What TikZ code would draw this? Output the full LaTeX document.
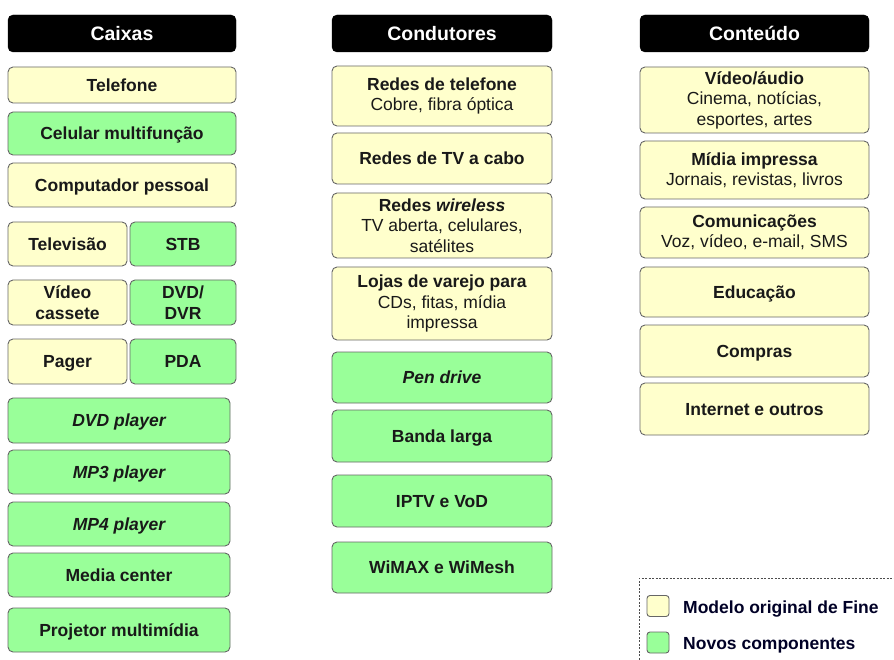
\documentclass[tikz,border=0pt]{standalone}
\usepackage{fontspec}
\setmainfont{Liberation Sans}
\begin{document}
\begin{tikzpicture}[x=1pt,y=-1pt,
  base/.style={draw=black!60,line width=0.9pt,rounded corners=5pt,inner sep=1pt,align=center,
    font=\fontsize{17.5}{20.5}\selectfont\bfseries,text=black!90},
  ybox/.style={base,fill=yellowfill},
  gbox/.style={base,fill=greenfill},
  one/.style={text height=12.6pt,text depth=0pt},
  hdr/.style={draw=black,fill=black,rounded corners=5pt,text=white,
    font=\fontsize{19.5}{22}\selectfont\bfseries,minimum height=37,inner sep=0pt,
    text height=14pt,text depth=0pt},
  sw/.style={draw=black!60,line width=0.9pt,rounded corners=3pt,minimum width=22,minimum height=21,inner sep=0pt},
  legtext/.style={anchor=west,inner sep=0pt,font=\fontsize{17.5}{20}\selectfont\bfseries,
    text=black!85!blue,text height=12.6pt,text depth=0pt}
]
\definecolor{yellowfill}{HTML}{FFFFCC}
\definecolor{greenfill}{HTML}{99FF99}
\useasboundingbox (0,0) rectangle (894,660);
% headers
\node[hdr,minimum width=228] (hA) at (122,33.5) {Caixas};
\node[hdr,minimum width=220] (hB) at (442,33.5) {Condutores};
\node[hdr,minimum width=229] (hC) at (754.5,33.5) {Conteúdo};
% Caixas
\node[ybox,one,minimum width=228,minimum height=36] (tel) at (122,85) {Telefone};
\node[gbox,one,minimum width=228,minimum height=43] (cel) at (122,133.5) {Celular multifunção};
\node[ybox,one,minimum width=228,minimum height=44] (comp) at (122,185) {Computador pessoal};
\node[ybox,one,minimum width=119,minimum height=44] (tv) at (67.5,244) {Televisão};
\node[gbox,one,minimum width=106,minimum height=44] (stb) at (183,244) {STB};
\node[ybox,minimum width=119,minimum height=45] (vc) at (67.5,302.5) {Vídeo\\cassete};
\node[gbox,minimum width=106,minimum height=45] (dvd) at (183,302.5) {DVD/\\DVR};
\node[ybox,one,minimum width=119,minimum height=45] (pager) at (67.5,361.5) {Pager};
\node[gbox,one,minimum width=106,minimum height=45] (pda) at (183,361.5) {PDA};
\node[gbox,one,minimum width=222,minimum height=45] (dvdp) at (119,420.5) {\itshape DVD player};
\node[gbox,one,minimum width=222,minimum height=44] (mp3) at (119,472) {\itshape MP3 player};
\node[gbox,one,minimum width=222,minimum height=44] (mp4) at (119,524) {\itshape MP4 player};
\node[gbox,one,minimum width=222,minimum height=44] (media) at (119,575) {Media center};
\node[gbox,one,minimum width=222,minimum height=44] (proj) at (119,630) {Projetor multimídia};
% Condutores
\node[ybox,minimum width=220,minimum height=60] (rtel) at (442,96) {Redes de telefone\\{\mdseries Cobre, fibra óptica}};
\node[ybox,one,minimum width=220,minimum height=51] (rtv) at (442,158.5) {Redes de TV a cabo};
\node[ybox,minimum width=220,minimum height=65] (rwl) at (442,225.5) {Redes {\itshape wireless}\\{\mdseries TV aberta, celulares,}\\{\mdseries satélites}};
\node[ybox,minimum width=220,minimum height=73] (loj) at (442,303.5) {Lojas de varejo para\\{\mdseries CDs, fitas, mídia}\\{\mdseries impressa}};
\node[gbox,one,minimum width=220,minimum height=51] (pen) at (442,377.5) {\itshape Pen drive};
\node[gbox,one,minimum width=220,minimum height=52] (banda) at (442,436) {Banda larga};
\node[gbox,one,minimum width=220,minimum height=52] (iptv) at (442,501) {IPTV e VoD};
\node[gbox,one,minimum width=220,minimum height=51] (wimax) at (442,567.5) {WiMAX e WiMesh};
% Conteudo
\node[ybox,minimum width=229,minimum height=66] (va) at (754.5,100) {Vídeo/áudio\\{\mdseries Cinema, notícias,}\\{\mdseries esportes, artes}};
\node[ybox,minimum width=229,minimum height=58] (mi) at (754.5,170) {Mídia impressa\\{\mdseries Jornais, revistas, livros}};
\node[ybox,minimum width=229,minimum height=51] (com) at (754.5,232.5) {Comunicações\\{\mdseries Voz, vídeo, e-mail, SMS}};
\node[ybox,one,minimum width=229,minimum height=50] (edu) at (754.5,292) {Educação};
\node[ybox,one,minimum width=229,minimum height=52] (cpr) at (754.5,351) {Compras};
\node[ybox,one,minimum width=229,minimum height=52] (inet) at (754.5,409) {Internet e outros};
% legend
\begin{scope}
\clip (0,0) rectangle (894,660);
\draw[black!70,line width=0.8pt,dash pattern=on 2pt off 1.5pt] (639,670) -- (639,578) -- (900,578);
\end{scope}
\node[sw,fill=yellowfill] (sw1) at (658,606) {};
\node[sw,fill=greenfill] (sw2) at (658,642.5) {};
\node[legtext] (l1) at (683,607) {Modelo original de Fine};
\node[legtext] (l2) at (683,643) {Novos componentes};
\end{tikzpicture}
\end{document}
